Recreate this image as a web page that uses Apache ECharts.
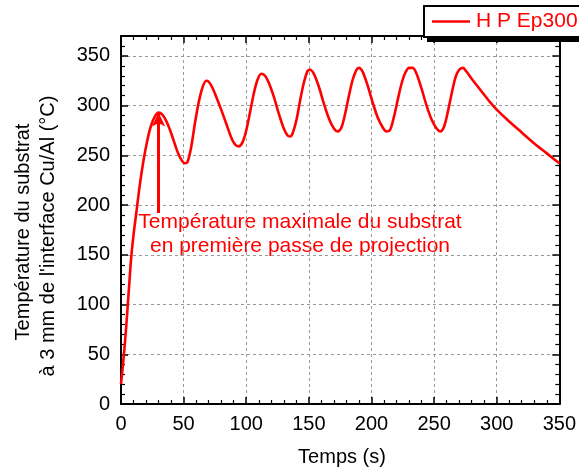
<!DOCTYPE html>
<html>
<head>
<meta charset="utf-8">
<script src="https://cdn.jsdelivr.net/npm/echarts@6/dist/echarts.min.js"></script>
<style>html,body{margin:0;padding:0;background:#fff;}#c{width:579px;height:471px;}</style>
</head>
<body>
<div id="c"></div>
<script>
// Data
const seriesName = 'H P Ep300';
const timeS = [0,2,4,6,8,10,12,15,18,21,24,27,30,33,36,39,42,45,48,51,53,56,59,62,65,68,70,73,76,80,84,88,91,94,97,100,103,106,109,112,115,118,122,126,130,133,135,137,140,143,146,149,151,154,158,162,166,170,173,176,179,182,185,188,190,193,197,201,205,209,212,215,218,221,224,227,230,233,236,240,244,248,252,255,258,261,264,267,270,273,276,280,285,290,295,300,310,320,330,340,350];
const tempC = [20,45,75,110,145,170,190,220,245,265,280,289,293,291,285,276,265,254,246,242,243,258,282,303,318,325,324,318,309,296,282,268,261,259,263,275,293,312,326,332,330,323,309,292,277,270,269,272,285,305,323,335,336,332,319,302,287,277,274,278,292,310,326,336,338,334,320,303,288,278,274,276,289,306,322,333,338,338,332,317,300,286,277,274,279,294,312,328,336,338,334,327,319,311,303,296,284,273,262,252,242];
const xTicks = [0,50,100,150,200,250,300,350];
const yTicks = [0,50,100,150,200,250,300,350];
const arrowFrom = [30,192];
const arrowTo = [30,293];
const annotation = ['Température maximale du substrat','en première passe de projection'];
const xName = 'Temps (s)';
const yName = ['Température du substrat',"à 3 mm de l'interface Cu/Al (°C)"];

const FONT = 'Liberation Sans, Arial, sans-serif';
const RED = '#ff0000';
const chart = echarts.init(document.getElementById('c'), null, {renderer:'canvas'});
const pts = timeS.map((t,i)=>[t,tempC[i]]);
const tickFmt = v => (yTicks.indexOf(v) >= 0 || xTicks.indexOf(v) >= 0) ? String(v) : '';

const baseAxis = {
  axisLine:{show:true,onZero:false,lineStyle:{color:'#000',width:2}},
  axisTick:{show:true,inside:true,length:7,lineStyle:{color:'#000',width:1.5}},
  minorTick:{show:true,splitNumber:5,length:4,lineStyle:{color:'#000',width:1.2}},
};
chart.setOption({
  animation:false,
  backgroundColor:'#fff',
  grid:{left:121,right:16,top:36,bottom:67,containLabel:false},
  legend:{
    data:[seriesName], left:423, top:5, z:10,
    padding:[6,40,6,9], itemWidth:38, itemHeight:2.5, itemGap:0,
    icon:'rect',
    backgroundColor:'transparent', borderWidth:0,
    textStyle:{color:RED,fontSize:21,fontFamily:FONT,padding:[0,0,0,1]}
  },
  xAxis:[
    Object.assign({}, baseAxis, {type:'value',position:'bottom',min:0,max:350,interval:50,
      axisLabel:{color:'#000',fontSize:20,fontFamily:FONT,margin:10,formatter:tickFmt},
      splitLine:{show:true,lineStyle:{color:'#999',type:[3,3],width:1}}}),
    Object.assign({}, baseAxis, {type:'value',position:'top',min:0,max:350,interval:50,
      axisLabel:{show:false},splitLine:{show:false}})
  ],
  yAxis:[
    Object.assign({}, baseAxis, {type:'value',position:'left',min:0,max:370,interval:50,
      axisLabel:{color:'#000',fontSize:20,fontFamily:FONT,margin:11,showMaxLabel:false,formatter:tickFmt},
      splitLine:{show:true,showMaxLine:false,lineStyle:{color:'#999',type:[3,3],width:1}}}),
    Object.assign({}, baseAxis, {type:'value',position:'right',min:0,max:370,interval:50,
      axisLabel:{show:false},splitLine:{show:false}})
  ],
  series:[{
    name:seriesName, type:'line', data:pts, smooth:0.3, showSymbol:false,
    lineStyle:{color:RED,width:2.6}, itemStyle:{color:RED},
    markLine:{
      silent:true, symbol:['none','arrow'], symbolSize:[10,14],
      lineStyle:{color:RED,width:3,type:'solid'}, label:{show:false},
      data:[[{coord:arrowFrom},{coord:arrowTo}]]
    }
  }],
  graphic:[
    {type:'rect',z:5,shape:{x:427,y:9,width:200,height:33},style:{fill:'#000'}},
    {type:'rect',z:6,shape:{x:424,y:6,width:200,height:31},style:{fill:'#fff',stroke:'#000',lineWidth:2}},
    {type:'text',x:300,y:222,style:{text:annotation[0],fill:RED,font:'21px '+FONT,textAlign:'center',textVerticalAlign:'middle'}},
    {type:'text',x:300,y:246,style:{text:annotation[1],fill:RED,font:'21px '+FONT,textAlign:'center',textVerticalAlign:'middle'}},
    {type:'text',x:342,y:457,style:{text:xName,fill:'#000',font:'20px '+FONT,textAlign:'center',textVerticalAlign:'middle'}},
    {type:'text',x:23,y:232,rotation:Math.PI/2,style:{text:yName[0],fill:'#000',font:'20px '+FONT,textAlign:'center',textVerticalAlign:'middle'}},
    {type:'text',x:48,y:236,rotation:Math.PI/2,style:{text:yName[1],fill:'#000',font:'20px '+FONT,textAlign:'center',textVerticalAlign:'middle'}}
  ]
});
</script>
</body>
</html>
